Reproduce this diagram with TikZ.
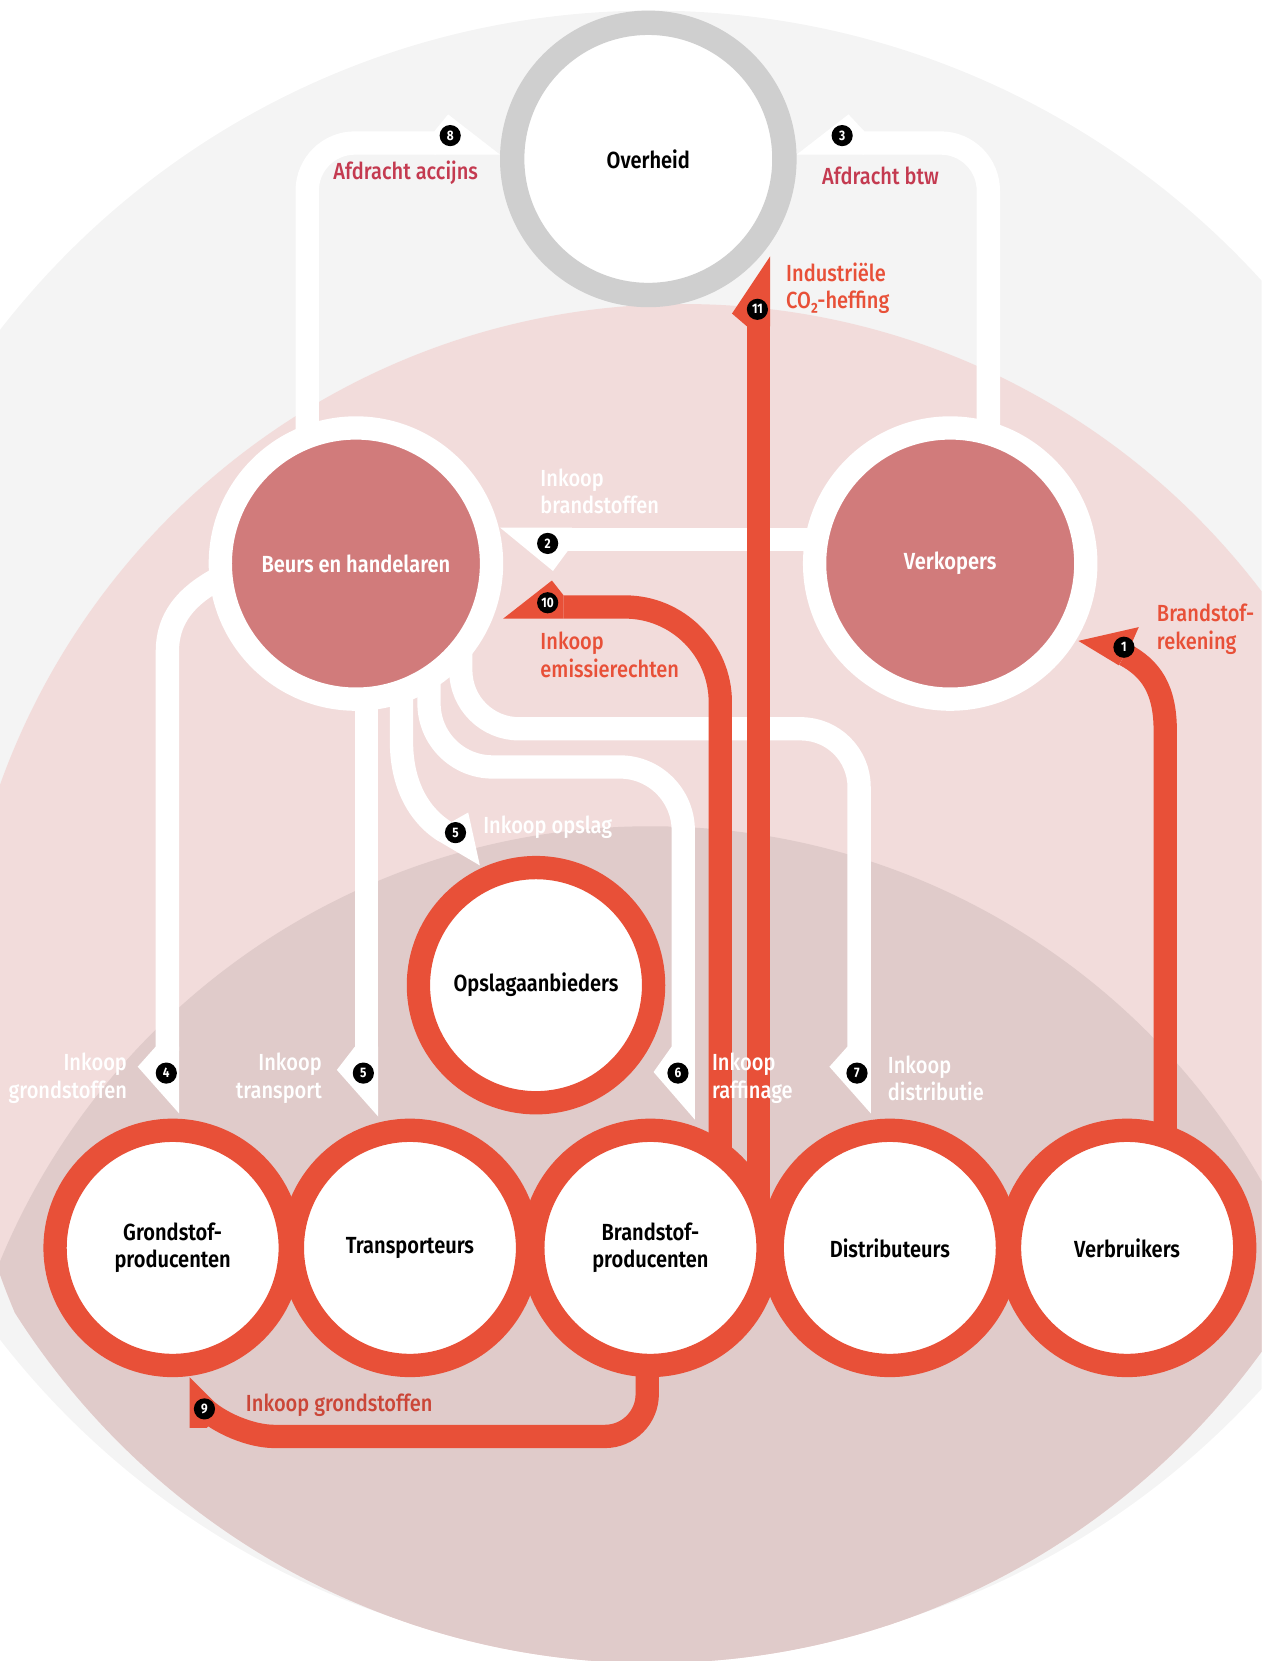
\documentclass[tikz,border=0pt]{standalone}
\usepackage{fontspec}
\setmainfont{Fira Sans}[FakeStretch=0.86]
\IfFontExistsTF{Fira Sans SemiBold}
  {\newfontfamily\actfont{Fira Sans SemiBold}[FakeStretch=0.86]}
  {\newfontfamily\actfont{Fira Sans}[FakeStretch=0.86, FakeBold=1.5]}
\IfFontExistsTF{Fira Sans Medium}
  {\newfontfamily\lblfont{Fira Sans Medium}[FakeStretch=0.86]}
  {\newfontfamily\lblfont{Fira Sans}[FakeStretch=0.86, FakeBold=0.8]}
\usetikzlibrary{calc}
\pgfdeclarelayer{bg}
\pgfdeclarelayer{lines}
\pgfsetlayers{bg,lines,main}

\definecolor{bggray}{RGB}{244,244,244}
\definecolor{bgpink}{RGB}{242,220,219}
\definecolor{bgdark}{RGB}{224,203,202}
\definecolor{ringgray}{RGB}{207,207,207}
\definecolor{nodepink}{RGB}{209,123,123}
\definecolor{flowred}{RGB}{232,80,56}
\definecolor{taxred}{RGB}{196,58,80}
\definecolor{buyred}{RGB}{203,70,56}

\newcommand{\lbl}{\fontsize{22}{26}\selectfont}
\newcommand{\badge}[4]{\node[badge] (#1) at (#2,#3) {#4};}
\newcommand{\tipw}[8]{\fill[white] (#1,#2) -- (#3,#4) -- (#5,#6) -- (#7,#8) -- cycle;}
\newcommand{\tipr}[8]{\fill[flowred] (#1,#2) -- (#3,#4) -- (#5,#6) -- (#7,#8) -- cycle;}

\tikzset{
  govnode/.style={circle, draw=ringgray, line width=23pt, fill=white, minimum size=257pt, inner sep=0pt, font=\actfont\lbl},
  marketnode/.style={circle, draw=white, line width=22pt, fill=nodepink, minimum size=256pt, inner sep=0pt, text=white, font=\actfont\lbl},
  chainnode/.style={circle, draw=flowred, line width=22pt, fill=white, minimum size=222pt, inner sep=0pt, align=center, font=\actfont\lbl},
  wline/.style={draw=white, line width=22pt},
  rline/.style={draw=flowred, line width=22pt},
  badge/.style={circle, fill=black, text=white, inner sep=0pt, minimum size=20pt, font=\fontsize{13}{13}\selectfont\bfseries},
  wlabel/.style={text=white, align=left, inner sep=0pt, font=\lblfont\lbl},
  flowlabel/.style={text=flowred, align=left, inner sep=0pt, font=\lblfont\lbl},
  taxlabel/.style={text=taxred, inner sep=0pt, font=\lblfont\lbl},
  buylabel/.style={text=buyred, inner sep=0pt, font=\lblfont\lbl},
}

\begin{document}
\begin{tikzpicture}[x=1pt, y=-1pt]
        \useasboundingbox (0,0) rectangle (1191,1568);

        % background
        \begin{pgfonlayer}{bg}
        \clip (0,0) rectangle (1191,1568);
        \fill[bggray] (615,788) circle (778);
        \begin{scope}
        \clip (615,859) circle (711);
        \fill[bgpink] (645,972) circle (685);
        \clip (645,972) circle (685);
        \fill[bgdark] (614,1444) circle (664);
        \end{scope}
        \end{pgfonlayer}

        % actors
        \node[govnode] (overheid) at (612,150) {Overheid};
        \node[marketnode] (beurs) at (336,532) {Beurs en handelaren};
        \node[marketnode] (verkopers) at (897,532) {Verkopers};
        \node[chainnode] (opslag) at (506,930) {Opslagaanbieders};
        % chain row
        \node[chainnode] (grondstof) at (163,1178) {Grondstof-\\producenten};
        \node[chainnode] (transport) at (387,1178) {Transporteurs};
        \node[chainnode] (brandstof) at (614,1178) {Brandstof-\\producenten};
        \node[chainnode] (distributie) at (840,1178) {Distributeurs};
        \node[chainnode] (verbruiker) at (1064,1178) {Verbruikers};

        \begin{pgfonlayer}{lines}
        % white flows
        \coordinate (e8) at (412,135);
        \draw[wline, rounded corners=45pt] ($(beurs)+(-46,0)$) |- (e8);
        \tipw{410}{124}{423}{108}{472}{146}{410}{146}
        \coordinate (e3) at (814,135);
        \draw[wline, rounded corners=45pt] ($(verkopers)+(36,0)$) |- (e3);
        \tipw{816}{124}{801}{108}{752}{146}{816}{146}
        \coordinate (e2) at (536,509);
        \draw[wline] ($(verkopers)+(0,-23)$) -- (e2);
        \tipw{540}{498}{472}{498}{522}{539}{536}{520}
        \coordinate (e4) at (158,992);
        \draw[wline] ($(beurs)+(-110,5)$) .. controls (180,556) and (158,580) .. (158,615) -- (e4);
        \tipw{147}{988}{130}{1007}{169}{1051}{169}{988}
        \coordinate (e5t) at (346,992);
        \draw[wline] ($(beurs)+(10,0)$) -- (e5t);
        \tipw{335}{988}{318}{1010}{357}{1054}{357}{988}
        \coordinate (e5o) at (420,785);
        \draw[wline] ($(beurs)+(43,0)$) -- (379,700) .. controls (379,745) and (399,772) .. (e5o);
        \tipw{426}{776}{442}{767}{453}{817}{414}{794}
        \coordinate (e6) at (645,992);
        \draw[wline, rounded corners=60pt] ($(beurs)+(69,0)$) |- (645,724) -- (e6);
        \tipw{634}{988}{617}{1012}{656}{1057}{656}{988}
        \coordinate (e7) at (811,992);
        \draw[wline, rounded corners=55pt] ($(beurs)+(99,0)$) |- (811,688) -- (e7);
        \tipw{800}{988}{783}{1007}{822}{1051}{822}{988}

        % red flows
        \coordinate (e10) at (532,573);
        \draw[rline, rounded corners=90pt] ($(brandstof)+(66,0)$) |- (e10);
        \tipr{532}{562}{521}{548}{475}{584}{532}{584}
        \coordinate (e11) at (716,306);
        \draw[rline] ($(brandstof)+(102,0)$) -- (e11);
        \tipr{705}{308}{691}{296}{727}{242}{727}{308}
        \coordinate (e1) at (1062,618);
        \draw[rline] ($(verbruiker)+(36,0)$) -- (1100,690) .. controls (1100,650) and (1086,631) .. (e1);
        \tipr{1068}{608}{1075}{592}{1018}{605}{1056}{628}
        \coordinate (e9) at (190,1327);
        \draw[rline, rounded corners=40pt] ($(brandstof)+(-3,0)$) |- (219,1356) -- (e9);
        \tipr{211}{1332}{179}{1300}{179}{1348}{195}{1348}
        \end{pgfonlayer}

        % badges
        \badge{b8}{425}{128}{8}
        \badge{b3}{795}{128}{3}
        \badge{b2}{517}{513}{2}
        \badge{b10}{517}{569}{10}
        \badge{b11}{715}{292}{11}
        \badge{b1}{1061}{611}{1}
        \badge{b5o}{430}{786}{5}
        \badge{b4}{157}{1013}{4}
        \badge{b5t}{343}{1013}{5}
        \badge{b6}{640}{1013}{6}
        \badge{b7}{809}{1013}{7}
        \badge{b9}{193}{1330}{9}

        % labels
        \node[taxlabel] (l8) at (383,163) {Afdracht accijns};
        \node[taxlabel, anchor=west] (l3) at (776,166) {Afdracht btw};
        \node[flowlabel, anchor=west] (l11) at (742,272) {Industriële\\CO₂-heffing};
        \node[wlabel, anchor=west] (l2) at (510,464) {Inkoop\\brandstoffen};
        \node[flowlabel, anchor=west] (l10) at (510,618) {Inkoop\\emissierechten};
        \node[flowlabel, anchor=west] (l1) at (1092,594) {Brandstof-\\rekening};
        \node[wlabel, anchor=west] (l5o) at (456,781) {Inkoop opslag};
        \node[wlabel, anchor=east, align=right] (l4) at (120,1018) {Inkoop\\grondstoffen};
        \node[wlabel, anchor=east, align=right] (l5t) at (304,1018) {Inkoop\\transport};
        \node[wlabel, anchor=west] (l6) at (672,1018) {Inkoop\\raffinage};
        \node[wlabel, anchor=west] (l7) at (838,1018) {Inkoop\\distributie};
        \node[buylabel, anchor=west] (l9) at (232,1327) {Inkoop grondstoffen};
\end{tikzpicture}
\end{document}
